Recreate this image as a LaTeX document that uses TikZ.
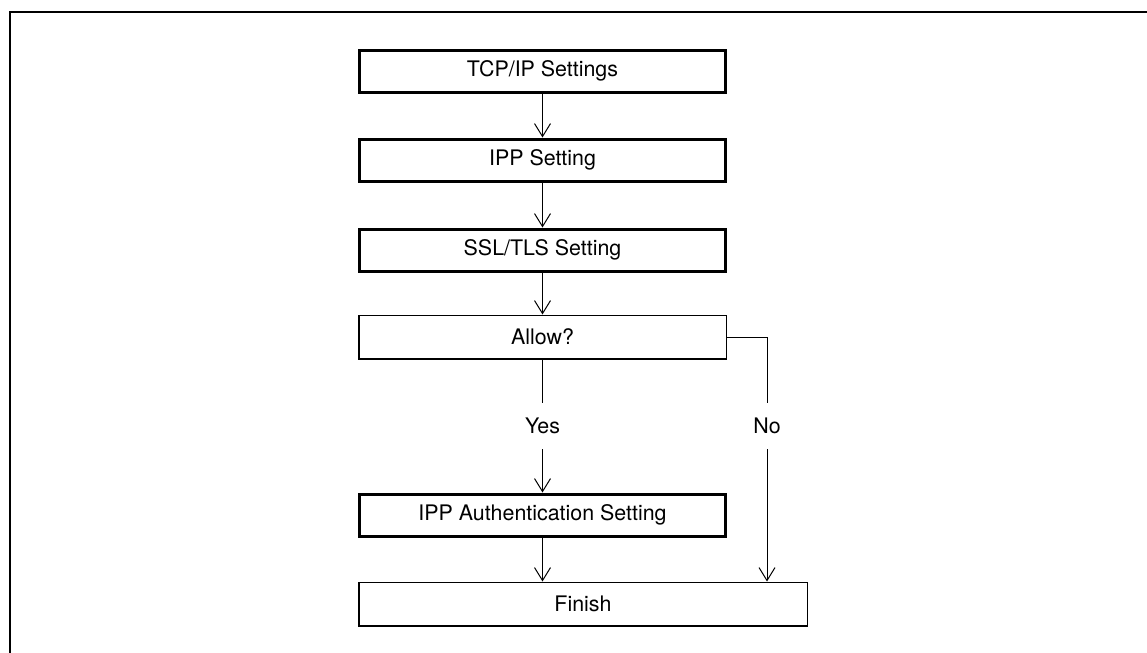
\documentclass[tikz,border=0pt]{standalone}
\usepackage{fontspec}
\setmainfont{TeX Gyre Heros}
\usepackage{tikz}
\usetikzlibrary{
    arrows.meta,
    positioning,
    calc
}
\tikzset{
  stepbox/.style = {draw, line width=1.5pt, minimum width=183pt,
                    minimum height=21pt, align=center, inner sep=0pt},
  askbox/.style  = {draw, line width=0.75pt, minimum width=183.75pt,
                    minimum height=21.75pt, align=center, inner sep=0pt},
  lbl/.style     = {fill=white, inner xsep=2pt, inner ysep=7.5pt},
  arr/.style     = {-{Straight Barb[length=6.5pt,width=8pt]}, line width=0.5pt}
}

\begin{document}
\begin{tikzpicture}[x=0.5pt, y=-0.5pt,
    font=\fontsize{10.7}{13}\selectfont]
          \useasboundingbox (0,0) rectangle (1147,653);
          % frame
          \draw[line width=1pt] (10,653) -- (10,12) -- (1147,12);
          % steps
          \node[stepbox] (tcp) at (542.5,71) {TCP/IP Settings};
          \node[stepbox, below=22pt of tcp] (ipp) {IPP Setting};
          \node[stepbox, below=22.5pt of ipp] (ssl) {SSL/TLS Setting};
          \node[askbox, below=21pt of ssl] (allow) {Allow?};
          \node[stepbox, below=66.5pt of allow] (auth) {IPP Authentication Setting};
          \node[askbox, minimum width=224.25pt, below=22pt of auth.south west,
                anchor=north west] (finish) {Finish};
          \coordinate (nox) at (767,0);
          % connectors
          \draw[arr] (tcp) -- (ipp);
          \draw[arr] (ipp) -- (ssl);
          \draw[arr] (ssl) -- (allow);
          \draw[arr] (allow) -- node[lbl] (yes) {Yes} (auth);
          \draw[arr] (auth) -- (auth |- finish.north);
          \draw[arr] (allow.east) -| (nox |- finish.north);
          \node[lbl] (no) at (nox |- yes) {No};
        \end{tikzpicture}
\end{document}
